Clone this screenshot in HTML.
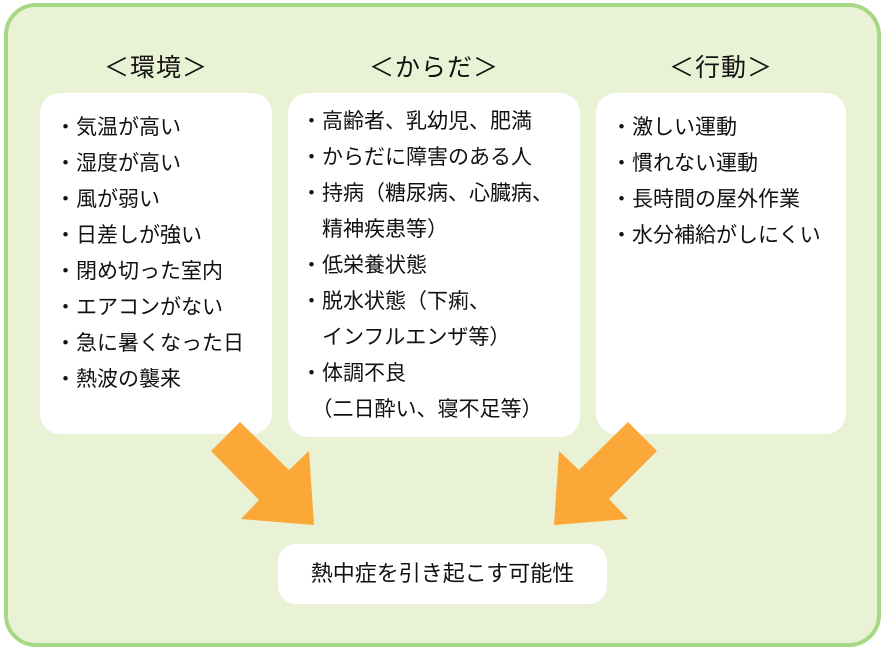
<!DOCTYPE html>
<html><head><meta charset="utf-8"><style>
body{margin:0;width:884px;height:649px;background:#fff;position:relative;overflow:hidden;font-family:"Liberation Sans","Noto Sans CJK JP",sans-serif;color:#111}
.frame{position:absolute;left:4px;top:3px;width:869px;height:636px;border:4px solid #a6d886;border-radius:32px;background:#eaf2d6}
.box{position:absolute;background:#fff;border-radius:20px}
.h{position:absolute;font-size:25px;top:48px;text-align:center;letter-spacing:1px}
.t{position:absolute;font-size:21px;line-height:36px;white-space:nowrap}
</style></head><body>
<div class="frame"></div>
<div class="h" style="left:40px;width:232px">＜環境＞</div>
<div class="h" style="left:288px;width:292px">＜からだ＞</div>
<div class="h" style="left:596px;width:250px">＜行動＞</div>
<div class="box" style="left:40px;top:93px;width:232px;height:341px"></div>
<div class="box" style="left:288px;top:93px;width:292px;height:344px"></div>
<div class="box" style="left:596px;top:93px;width:250px;height:341px"></div>
<div class="t" style="left:55px;top:110px">・気温が高い<br>・湿度が高い<br>・風が弱い<br>・日差しが強い<br>・閉め切った室内<br>・エアコンがない<br>・急に暑くなった日<br>・熱波の襲来</div>
<div class="t" style="left:301px;top:104px">・高齢者、乳幼児、肥満<br>・からだに障害のある人<br>・持病（糖尿病、心臓病、<br>　精神疾患等）<br>・低栄養状態<br>・脱水状態（下痢、<br>　インフルエンザ等）<br>・体調不良<br>　（二日酔い、寝不足等）</div>
<div class="t" style="left:611px;top:110px">・激しい運動<br>・慣れない運動<br>・長時間の屋外作業<br>・水分補給がしにくい</div>
<svg style="position:absolute;left:0;top:0" width="884" height="649">
<polygon fill="#fca838" points="240,422 289,470 309,451 314,525 241,519 259,500 211,451"/>
<polygon fill="#fca838" points="628,422 657,451 609,499 628,519 554,525 559,451 579,470"/>
</svg>
<div class="box" style="left:278px;top:544px;width:329px;height:60px;border-radius:18px"></div>
<div class="t" style="left:278px;top:556px;width:329px;text-align:center;font-size:22px">熱中症を引き起こす可能性</div>
</body></html>
